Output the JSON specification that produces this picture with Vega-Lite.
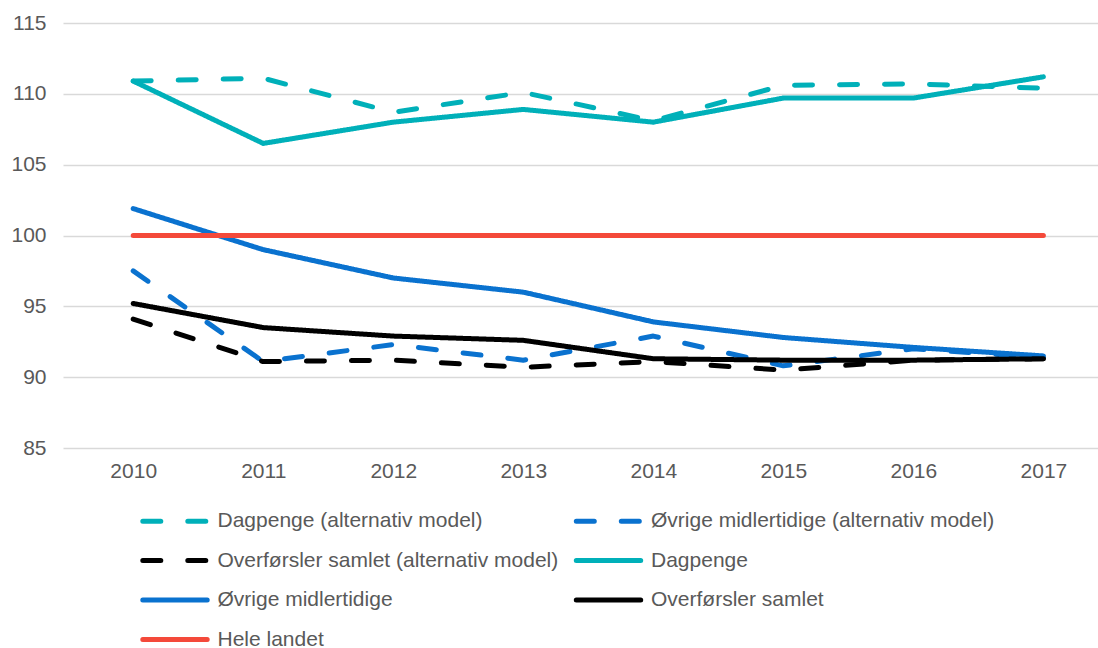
{
  "$schema": "https://vega.github.io/schema/vega-lite/v6.json",
  "width": 1035,
  "height": 425,
  "autosize": "none",
  "padding": {"left": 63, "top": 23, "right": 0, "bottom": 200},
  "background": "white",
  "config": {
    "view": {"stroke": null},
    "font": "Liberation Sans",
    "axis": {"labelFont": "Liberation Sans", "labelColor": "#595959", "labelFontSize": 21, "title": null}
  },
  "data": {
    "values": [
      {"year": 2010, "serie": "Dagpenge (alternativ model)", "value": 110.9},
      {"year": 2011, "serie": "Dagpenge (alternativ model)", "value": 111.1},
      {"year": 2012, "serie": "Dagpenge (alternativ model)", "value": 108.7},
      {"year": 2013, "serie": "Dagpenge (alternativ model)", "value": 110.1},
      {"year": 2014, "serie": "Dagpenge (alternativ model)", "value": 108.1},
      {"year": 2015, "serie": "Dagpenge (alternativ model)", "value": 110.6},
      {"year": 2016, "serie": "Dagpenge (alternativ model)", "value": 110.7},
      {"year": 2017, "serie": "Dagpenge (alternativ model)", "value": 110.4},
      {"year": 2010, "serie": "Øvrige midlertidige (alternativ model)", "value": 97.5},
      {"year": 2011, "serie": "Øvrige midlertidige (alternativ model)", "value": 91.1},
      {"year": 2012, "serie": "Øvrige midlertidige (alternativ model)", "value": 92.3},
      {"year": 2013, "serie": "Øvrige midlertidige (alternativ model)", "value": 91.2},
      {"year": 2014, "serie": "Øvrige midlertidige (alternativ model)", "value": 92.9},
      {"year": 2015, "serie": "Øvrige midlertidige (alternativ model)", "value": 90.8},
      {"year": 2016, "serie": "Øvrige midlertidige (alternativ model)", "value": 92.0},
      {"year": 2017, "serie": "Øvrige midlertidige (alternativ model)", "value": 91.4},
      {"year": 2010, "serie": "Overførsler samlet (alternativ model)", "value": 94.1},
      {"year": 2011, "serie": "Overførsler samlet (alternativ model)", "value": 91.1},
      {"year": 2012, "serie": "Overførsler samlet (alternativ model)", "value": 91.2},
      {"year": 2013, "serie": "Overførsler samlet (alternativ model)", "value": 90.7},
      {"year": 2014, "serie": "Overførsler samlet (alternativ model)", "value": 91.1},
      {"year": 2015, "serie": "Overførsler samlet (alternativ model)", "value": 90.5},
      {"year": 2016, "serie": "Overførsler samlet (alternativ model)", "value": 91.2},
      {"year": 2017, "serie": "Overførsler samlet (alternativ model)", "value": 91.3},
      {"year": 2010, "serie": "Dagpenge", "value": 110.9},
      {"year": 2011, "serie": "Dagpenge", "value": 106.5},
      {"year": 2012, "serie": "Dagpenge", "value": 108.0},
      {"year": 2013, "serie": "Dagpenge", "value": 108.9},
      {"year": 2014, "serie": "Dagpenge", "value": 108.0},
      {"year": 2015, "serie": "Dagpenge", "value": 109.7},
      {"year": 2016, "serie": "Dagpenge", "value": 109.7},
      {"year": 2017, "serie": "Dagpenge", "value": 111.2},
      {"year": 2010, "serie": "Øvrige midlertidige", "value": 101.9},
      {"year": 2011, "serie": "Øvrige midlertidige", "value": 99.0},
      {"year": 2012, "serie": "Øvrige midlertidige", "value": 97.0},
      {"year": 2013, "serie": "Øvrige midlertidige", "value": 96.0},
      {"year": 2014, "serie": "Øvrige midlertidige", "value": 93.9},
      {"year": 2015, "serie": "Øvrige midlertidige", "value": 92.8},
      {"year": 2016, "serie": "Øvrige midlertidige", "value": 92.1},
      {"year": 2017, "serie": "Øvrige midlertidige", "value": 91.5},
      {"year": 2010, "serie": "Overførsler samlet", "value": 95.2},
      {"year": 2011, "serie": "Overførsler samlet", "value": 93.5},
      {"year": 2012, "serie": "Overførsler samlet", "value": 92.9},
      {"year": 2013, "serie": "Overførsler samlet", "value": 92.6},
      {"year": 2014, "serie": "Overførsler samlet", "value": 91.3},
      {"year": 2015, "serie": "Overførsler samlet", "value": 91.2},
      {"year": 2016, "serie": "Overførsler samlet", "value": 91.2},
      {"year": 2017, "serie": "Overførsler samlet", "value": 91.3},
      {"year": 2010, "serie": "Hele landet", "value": 100},
      {"year": 2011, "serie": "Hele landet", "value": 100},
      {"year": 2012, "serie": "Hele landet", "value": 100},
      {"year": 2013, "serie": "Hele landet", "value": 100},
      {"year": 2014, "serie": "Hele landet", "value": 100},
      {"year": 2015, "serie": "Hele landet", "value": 100},
      {"year": 2016, "serie": "Hele landet", "value": 100},
      {"year": 2017, "serie": "Hele landet", "value": 100}
    ]
  },
  "mark": {"type": "line", "strokeWidth": 5, "strokeCap": "round", "strokeJoin": "round"},
  "encoding": {
    "x": {
      "field": "year", "type": "quantitative",
      "scale": {"domain": [2009.46, 2017.42], "nice": false, "zero": false},
      "axis": {"values": [2010, 2011, 2012, 2013, 2014, 2015, 2016, 2017], "format": "d", "grid": false, "domain": false, "ticks": false, "labelPadding": 12, "labelFlush": false}
    },
    "y": {
      "field": "value", "type": "quantitative",
      "scale": {"domain": [85, 115], "nice": false, "zero": false},
      "axis": {"values": [85, 90, 95, 100, 105, 110, 115], "grid": true, "gridColor": "#d9d9d9", "gridWidth": 1.5, "domain": false, "ticks": false, "labelPadding": 17}
    },
    "color": {
      "field": "serie", "type": "nominal",
      "scale": {
        "domain": ["Dagpenge (alternativ model)", "Øvrige midlertidige (alternativ model)", "Overførsler samlet (alternativ model)", "Dagpenge", "Øvrige midlertidige", "Overførsler samlet", "Hele landet"],
        "range": ["#00B0B9", "#0A72CF", "#000000", "#00B0B9", "#0A72CF", "#000000", "#F4493A"]
      },
      "legend": {
        "title": null, "orient": "none", "direction": "horizontal", "legendX": 101.5, "legendY": 487.5, "columns": 2,
        "symbolType": "M-4.6,0H4.6", "symbolSize": 196, "symbolStrokeWidth": 5,
        "labelFont": "Liberation Sans", "labelFontSize": 21, "labelColor": "#595959",
        "labelOffset": 32, "rowPadding": 17.5, "columnPadding": 7.5, "padding": 0, "labelLimit": 500,
        "encode": {"symbols": {"update": {"strokeCap": {"value": "round"}}}}
      }
    },
    "strokeDash": {
      "field": "serie", "type": "nominal",
      "scale": {
        "domain": ["Dagpenge (alternativ model)", "Øvrige midlertidige (alternativ model)", "Overførsler samlet (alternativ model)", "Dagpenge", "Øvrige midlertidige", "Overførsler samlet", "Hele landet"],
        "range": [[18, 27], [18, 27], [18, 27], [1, 0], [1, 0], [1, 0], [1, 0]]
      }
    }
  }
}
